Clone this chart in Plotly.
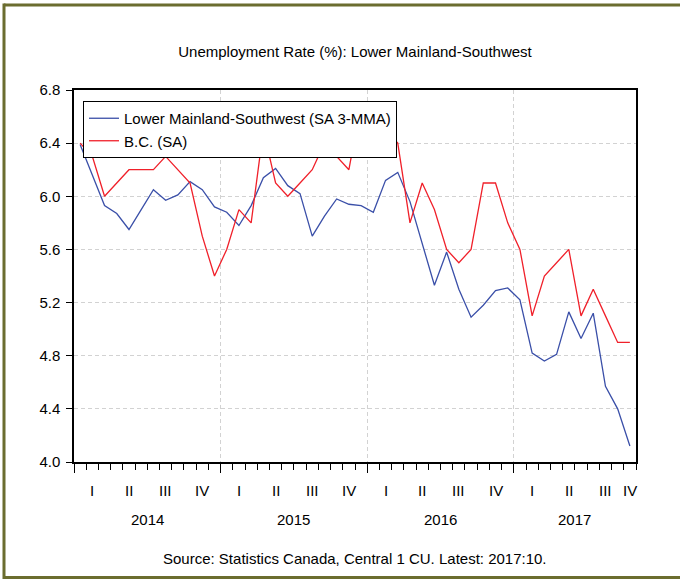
import plotly.graph_objects as go
import pandas as pd

# ---- data ----
months = [p.strftime("%Y-%m") for p in pd.period_range("2014-01", "2017-10", freq="M")]
lmsw = [6.39, 6.16, 5.93, 5.87, 5.75, 5.90, 6.05, 5.97, 6.01, 6.11, 6.05, 5.92,
        5.88, 5.78, 5.93, 6.14, 6.21, 6.08, 6.02, 5.70, 5.85, 5.98, 5.94, 5.93,
        5.88, 6.12, 6.18, 5.96, 5.64, 5.33, 5.58, 5.30, 5.09, 5.18, 5.29, 5.31,
        5.22, 4.82, 4.76, 4.81, 5.13, 4.93, 5.12, 4.57, 4.40, 4.12]
bc = [6.4, 6.3, 6.0, 6.1, 6.2, 6.2, 6.2, 6.3, 6.2, 6.1, 5.7, 5.4,
      5.6, 5.9, 5.8, 6.5, 6.1, 6.0, 6.1, 6.2, 6.4, 6.3, 6.2, 6.7,
      6.6, 6.5, 6.4, 5.8, 6.1, 5.9, 5.6, 5.5, 5.6, 6.1, 6.1, 5.8,
      5.6, 5.1, 5.4, 5.5, 5.6, 5.1, 5.3, 5.1, 4.9, 4.9]
quarter_labels = ["I", "II", "III", "IV"]
series_names = ["Lower Mainland-Southwest (SA 3-MMA)", "B.C. (SA)"]
title_text = "Unemployment Rate (%): Lower Mainland-Southwest"
source_text = "Source: Statistics Canada, Central 1 CU. Latest: 2017:10."

# ---- layout helpers ----
FONT = "Liberation Sans, Arial, sans-serif"
W, H = 689, 580
L, R, T, B = 74, 636, 90, 462
n = len(months)
xpos = [i + 0.5 for i in range(n)]

def py(px):  # pixel y -> paper y
    return (B - px) / (B - T)

def px_(x):  # pixel x -> paper x
    return (x - L) / (R - L)

fig = go.Figure()
fig.add_trace(go.Scatter(x=xpos, y=lmsw, mode="lines", name=series_names[0],
                         line=dict(color="#3a4fa8", width=1.3)))
fig.add_trace(go.Scatter(x=xpos, y=bc, mode="lines", name=series_names[1],
                         line=dict(color="#f0202a", width=1.3)))

annotations = []
# quarter labels
groups = {}
for i, m in enumerate(months):
    y, mo = int(m[:4]), int(m[5:])
    groups.setdefault((y, (mo - 1) // 3), []).append(i)
for (yr, q), idx in groups.items():
    annotations.append(dict(x=(min(idx) + max(idx) + 1) / 2, y=py(490), xref="x", yref="paper",
                            text=quarter_labels[q], showarrow=False, yanchor="middle",
                            font=dict(family=FONT, size=15, color="black")))
years = {}
for i, m in enumerate(months):
    years.setdefault(m[:4], []).append(i)
for yr, idx in years.items():
    annotations.append(dict(x=(min(idx) + max(idx) + 1) / 2, y=py(519), xref="x", yref="paper",
                            text=yr, showarrow=False, yanchor="middle",
                            font=dict(family=FONT, size=15, color="black")))
annotations.append(dict(x=0.5, y=py(558), xref="paper", yref="paper", text=source_text,
                        showarrow=False, yanchor="middle",
                        font=dict(family=FONT, size=15, color="black")))

frame = dict(color="#6b6d2f", width=3)
fig.update_layout(
    width=W, height=H,
    margin=dict(l=L, r=W - R, t=T, b=H - B, pad=0),
    paper_bgcolor="white", plot_bgcolor="white",
    font=dict(family=FONT, size=15, color="black"),
    title=dict(text=title_text, x=px_(355), xref="paper", y=1 - 52 / H, yanchor="middle",
               xanchor="center", font=dict(family=FONT, size=15, color="black")),
    showlegend=True,
    legend=dict(x=px_(83), y=py(101), xanchor="left", yanchor="top",
                bgcolor="white", bordercolor="black", borderwidth=1,
                font=dict(family=FONT, size=15, color="black"), tracegroupgap=0),
    xaxis=dict(range=[0, n], tickmode="array", tickvals=[0, 12, 24, 36],
               ticks="outside", ticklen=9, tickwidth=1, tickcolor="black",
               showticklabels=False, showgrid=True, gridcolor="#d2d2d2",
               griddash="4px,3px", gridwidth=1, zeroline=False,
               showline=True, linecolor="black", linewidth=1.5, mirror=True,
               minor=dict(dtick=1, tick0=0, ticks="outside", ticklen=6,
                          tickwidth=1, tickcolor="black", showgrid=False)),
    yaxis=dict(range=[4.0, 6.8], dtick=0.4, tick0=4.0, tickformat=".1f",
               ticks="outside", ticklen=6, tickwidth=1, tickcolor="black",
               ticklabelstandoff=3,
               showgrid=True, gridcolor="#d2d2d2", griddash="4px,3px", gridwidth=1,
               zeroline=False, showline=True, linecolor="black", linewidth=1.5,
               mirror=True, tickfont=dict(family=FONT, size=15, color="black")),
    annotations=annotations,
    shapes=[
        dict(type="line", xref="paper", yref="paper", x0=px_(4), x1=px_(680),
             y0=py(5), y1=py(5), line=frame, layer="above"),
        dict(type="line", xref="paper", yref="paper", x0=px_(4), x1=px_(680),
             y0=py(577.5), y1=py(577.5), line=frame, layer="above"),
        dict(type="line", xref="paper", yref="paper", x0=px_(4), x1=px_(4),
             y0=py(3.5), y1=py(579), line=frame, layer="above"),
    ],
)

fig.write_html("out.html", config={"displayModeBar": False},
               post_script="document.body.style.margin='0';document.body.style.overflow='hidden';")
